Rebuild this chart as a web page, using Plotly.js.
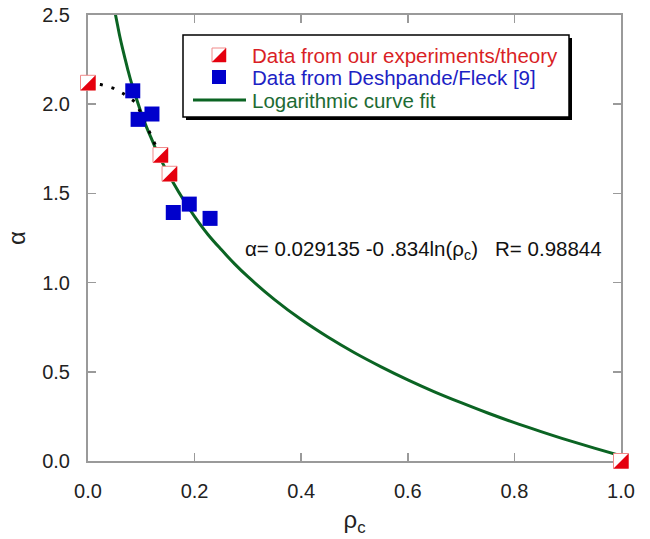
<!DOCTYPE html>
<html>
<head>
<meta charset="utf-8">
<script src="https://cdn.plot.ly/plotly-3.0.1.min.js"></script>
<style>html,body{margin:0;padding:0;background:#fff;}#chart{width:650px;height:539px;}</style>
</head>
<body>
<div id="chart"></div>
<script>
// Data
const ourX = [0.0, 0.136, 0.153, 1.0];
const ourY = [2.12, 1.715, 1.61, 0.0];

const deshX = [0.084, 0.094, 0.120, 0.160, 0.190, 0.229];
const deshY = [2.075, 1.915, 1.945, 1.393, 1.44, 1.36];

const dotX = [0.0, 0.024, 0.047, 0.066, 0.09, 0.135];
const dotY = [2.12, 2.11, 2.09, 2.06, 2.01, 1.715];

const fitX = [0.051, 0.055, 0.06, 0.065, 0.07, 0.075, 0.08, 0.09, 0.10, 0.11, 0.12, 0.13, 0.14, 0.16, 0.18, 0.20, 0.225, 0.25, 0.275, 0.30, 0.35, 0.40, 0.45, 0.50, 0.55, 0.60, 0.65, 0.70, 0.75, 0.80, 0.85, 0.90, 0.95, 1.00];
const fitY = [2.51, 2.45, 2.375, 2.31, 2.25, 2.19, 2.135, 2.04, 1.95, 1.87, 1.80, 1.73, 1.67, 1.56, 1.46, 1.37, 1.27, 1.185, 1.105, 1.033, 0.905, 0.793, 0.695, 0.607, 0.528, 0.455, 0.388, 0.327, 0.269, 0.215, 0.165, 0.117, 0.072, 0.029];

const xTicks = [0.0, 0.2, 0.4, 0.6, 0.8, 1.0];
const yTicks = [0.0, 0.5, 1.0, 1.5, 2.0, 2.5];

const legendLabels = ['Data from our experiments/theory', 'Data from Deshpande/Fleck [9]', 'Logarithmic curve fit'];
const equationText = 'α= 0.029135 -0 .834ln(ρ<sub>c</sub>)\u00a0\u00a0\u00a0R= 0.98844';

const RED = '#e5000e', BLUE = '#0000cc', GREEN = '#0b6423';
const FONT = 'Liberation Sans, Arial, sans-serif';

const traces = [
  { x: fitX, y: fitY, mode: 'lines', line: { color: GREEN, width: 3, shape: 'spline', smoothing: 1 }, hoverinfo: 'skip' },
  { x: dotX, y: dotY, mode: 'lines', line: { color: '#000', width: 3, dash: '3px,9px' }, hoverinfo: 'skip' },
  { x: deshX, y: deshY, mode: 'markers', cliponaxis: false, marker: { symbol: 'square', size: 15, color: BLUE, line: { width: 0 } } },
  { x: ourX, y: ourY, mode: 'markers', cliponaxis: false, marker: { symbol: 'square', size: 15, color: '#fff', line: { width: 1, color: '#f08a8a' } } },
  { x: ourX, y: ourY, mode: 'markers', cliponaxis: false, marker: { symbol: 'square', size: 15, color: RED, line: { width: 0 } } }
];

// plot area in pixels: l=88, r=29, t=15, b=78 -> 533 x 446
function px(p) { return (p - 88) / 533; }
function py(p) { return (461 - p) / 446; }

const shapes = [
  { type: 'rect', xref: 'paper', yref: 'paper', x0: px(186), x1: px(572), y0: py(120), y1: py(38), fillcolor: '#000', line: { width: 0 } },
  { type: 'rect', xref: 'paper', yref: 'paper', x0: px(183), x1: px(569), y0: py(117), y1: py(35), fillcolor: '#fff', line: { width: 1.5, color: '#000' } },
  { type: 'rect', xref: 'paper', yref: 'paper', x0: px(212), x1: px(226), y0: py(62), y1: py(48), fillcolor: '#fff', line: { width: 1, color: '#f08a8a' } },
  { type: 'path', xref: 'paper', yref: 'paper', path: 'M' + px(212) + ',' + py(62) + 'L' + px(226) + ',' + py(62) + 'L' + px(226) + ',' + py(48) + 'Z', fillcolor: RED, line: { width: 0 } },
  { type: 'rect', xref: 'paper', yref: 'paper', x0: px(212), x1: px(226), y0: py(84), y1: py(70), fillcolor: BLUE, line: { width: 0 } },
  { type: 'line', xref: 'paper', yref: 'paper', x0: px(193), x1: px(246), y0: py(100), y1: py(100), line: { width: 3, color: GREEN } }
];

const legendColors = ['#d91f26', '#1c22c4', '#1d6b33'];
const legendRows = [55, 78, 100];
const annotations = legendLabels.map((t, i) => ({
  text: t, xref: 'paper', yref: 'paper', x: px(250), y: py(legendRows[i]), xanchor: 'left', yanchor: 'middle',
  showarrow: false, font: { family: FONT, size: 20.5, color: legendColors[i] }
}));
annotations.push({
  text: equationText, xref: 'paper', yref: 'paper', x: px(243), y: py(250), xanchor: 'left', yanchor: 'middle',
  showarrow: false, font: { family: FONT, size: 20.5, color: '#111' }
});

const axisCommon = {
  ticks: 'inside', ticklen: 8, tickwidth: 1.5, tickcolor: '#9a9a9a',
  showline: true, linecolor: '#9a9a9a', linewidth: 2, mirror: 'ticks',
  showgrid: false, zeroline: false, layer: 'below traces',
  tickfont: { family: FONT, size: 20, color: '#222' }, tickformat: '.1f'
};

const layout = {
  width: 650, height: 539,
  margin: { l: 88, r: 29, t: 15, b: 78 },
  paper_bgcolor: '#fff', plot_bgcolor: '#fff',
  showlegend: false,
  xaxis: Object.assign({}, axisCommon, { range: [0, 1], tickvals: xTicks, ticklabelstandoff: 11,
    title: { text: 'ρ<sub>c</sub>', font: { family: FONT, size: 24, color: '#222' }, standoff: 10 } }),
  yaxis: Object.assign({}, axisCommon, { range: [0, 2.5], tickvals: yTicks, ticklabelstandoff: 12,
    title: { text: 'α', font: { family: FONT, size: 24, color: '#222' }, standoff: 10 } }),
  shapes: shapes,
  annotations: annotations
};

Plotly.newPlot('chart', traces, layout, { staticPlot: true, displayModeBar: false }).then(function (gd) {
  // turn the red markers into lower-right half squares
  const groups = gd.querySelectorAll('.scatterlayer .trace');
  const red = groups[4];
  if (red) {
    red.querySelectorAll('path.point').forEach(function (p) {
      const d = p.getAttribute('d') || '';
      const r = parseFloat(d.slice(1));
      if (!isNaN(r)) p.setAttribute('d', 'M' + r + ',' + r + 'H' + (-r) + 'L' + r + ',' + (-r) + 'Z');
    });
  }
});
</script>
</body>
</html>
